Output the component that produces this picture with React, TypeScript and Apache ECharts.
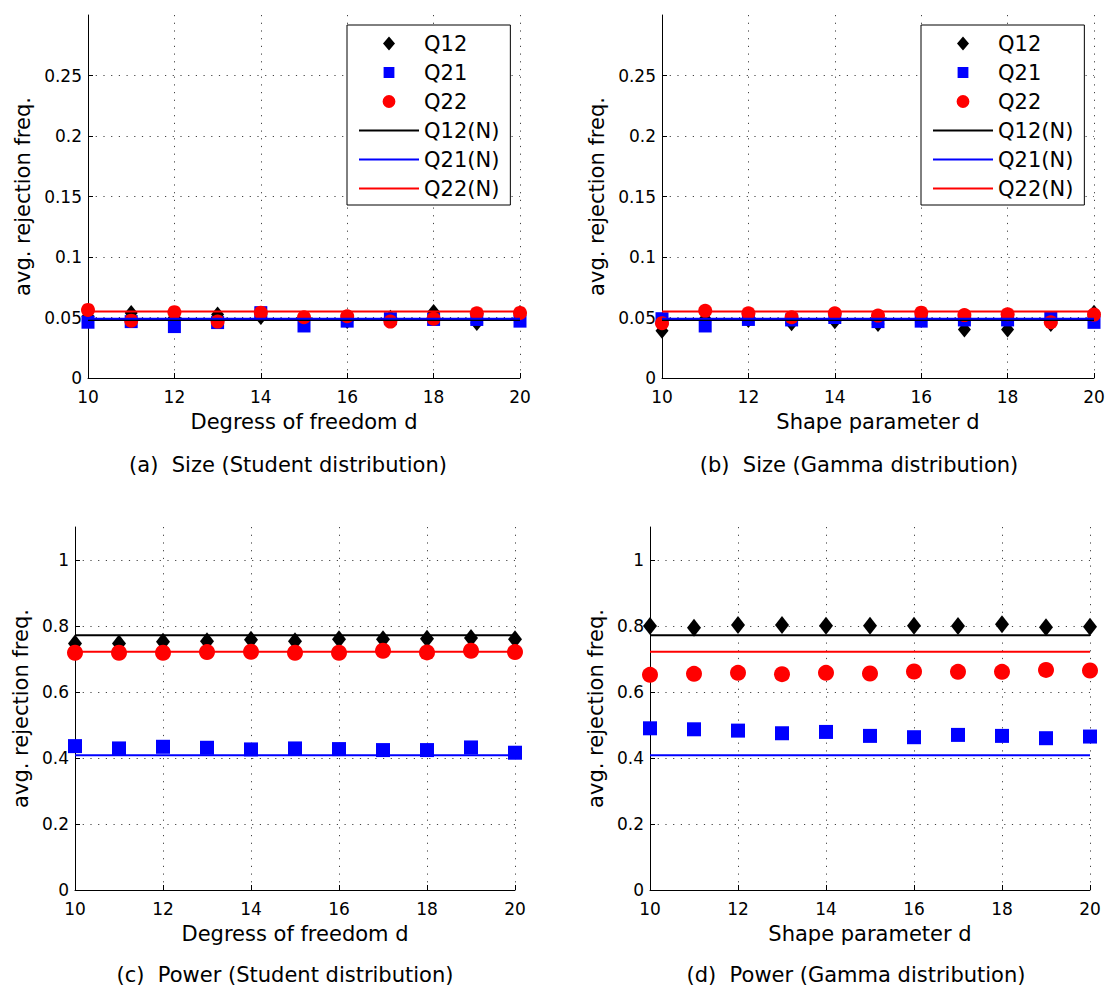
import React, { useEffect, useRef } from "react";
import * as echarts from "echarts";

// ---------- data ----------
const dValues = [10, 11, 12, 13, 14, 15, 16, 17, 18, 19, 20];
const xTicks = [10, 12, 14, 16, 18, 20];
const sizeYTicks = [0, 0.05, 0.1, 0.15, 0.2, 0.25];
const powerYTicks = [0, 0.2, 0.4, 0.6, 0.8, 1];
const sizeYMax = 0.3;
const powerYMax = 1.1;

const seriesNames = ["Q12", "Q21", "Q22"];
const normalNames = ["Q12(N)", "Q21(N)", "Q22(N)"];

// (a) Size, Student distribution
const studentSizeQ12 = [0.051, 0.0537, 0.05, 0.0524, 0.0505, 0.048, 0.0472, 0.0497, 0.0546, 0.0455, 0.0537];
const studentSizeQ21 = [0.0461, 0.0466, 0.0425, 0.0458, 0.054, 0.043, 0.047, 0.049, 0.0484, 0.0484, 0.047];
const studentSizeQ22 = [0.0563, 0.0474, 0.0544, 0.0466, 0.054, 0.0502, 0.051, 0.0466, 0.049, 0.0535, 0.0538];

// (b) Size, Gamma distribution
const gammaSizeQ12 = [0.039, 0.049, 0.048, 0.0453, 0.047, 0.0447, 0.048, 0.04, 0.04, 0.0447, 0.054];
const gammaSizeQ21 = [0.049, 0.043, 0.0484, 0.048, 0.05, 0.0466, 0.047, 0.048, 0.048, 0.05, 0.046];
const gammaSizeQ22 = [0.0453, 0.0555, 0.0535, 0.0502, 0.0535, 0.0516, 0.054, 0.052, 0.0527, 0.0461, 0.0524];

// (c) Power, Student distribution
const studentPowerQ12 = [0.747, 0.747, 0.752, 0.754, 0.758, 0.754, 0.76, 0.76, 0.761, 0.764, 0.76];
const studentPowerQ21 = [0.436, 0.429, 0.434, 0.431, 0.426, 0.429, 0.427, 0.424, 0.424, 0.432, 0.416];
const studentPowerQ22 = [0.719, 0.719, 0.719, 0.721, 0.722, 0.719, 0.719, 0.725, 0.72, 0.725, 0.721];

// (d) Power, Gamma distribution
const gammaPowerQ12 = [0.8, 0.795, 0.803, 0.803, 0.801, 0.801, 0.801, 0.8, 0.805, 0.796, 0.798];
const gammaPowerQ21 = [0.49, 0.487, 0.483, 0.475, 0.479, 0.467, 0.463, 0.47, 0.467, 0.46, 0.465];
const gammaPowerQ22 = [0.652, 0.655, 0.658, 0.654, 0.658, 0.656, 0.662, 0.661, 0.661, 0.667, 0.665];

// normal-distribution reference levels (Q12(N), Q21(N), Q22(N))
const normalSize = [0.048, 0.049, 0.055];
const normalPower = [0.772, 0.408, 0.722];

const captions = [
  "(a)\u00a0 Size (Student distribution)",
  "(b)\u00a0 Size (Gamma distribution)",
  "(c)\u00a0 Power (Student distribution)",
  "(d)\u00a0 Power (Gamma distribution)",
];
const xNames = ["Degress of freedom d", "Shape parameter d", "Degress of freedom d", "Shape parameter d"];
const yName = "avg. rejection freq.";

// ---------- styling ----------
const FONT = "DejaVu Sans";
const colors = ["#000000", "#0000ff", "#ff0000"];
const symbols = ["diamond", "rect", "circle"];
const sizeSymbolSizes: any[] = [[13, 16], 13, 14];
const powerSymbolSizes: any[] = [[14, 18], 14, 16];

// legend icons drawn in a 60 x 14 box (corner specks fix the bounding box)
const SPECKS = " M0,0 L0.01,0 L0,0.01 Z M60,14 L59.99,14 L60,13.99 Z";
const legendIcons = [
  "path://M30,0 L36,7 L30,14 L24,7 Z" + SPECKS,
  "path://M24.6,1.6 L35.4,1.6 L35.4,12.4 L24.6,12.4 Z" + SPECKS,
  "path://M23.6,7 A6.4,6.4 0 1 0 36.4,7 A6.4,6.4 0 1 0 23.6,7 Z" + SPECKS,
];
const lineIcon = "path://M0,6 L60,6 L60,8 L0,8 Z" + SPECKS;

const grids = [
  { left: 88, top: 15, width: 432, height: 363 },
  { left: 662, top: 15, width: 432, height: 363 },
  { left: 75, top: 527, width: 440, height: 363 },
  { left: 650, top: 527, width: 440, height: 363 },
];
const yNameGaps = [55, 55, 44, 44];
const captionPos = [
  [288, 465],
  [859, 465],
  [285, 975],
  [856, 975],
];

const panels = [
  { data: [studentSizeQ12, studentSizeQ21, studentSizeQ22], normal: normalSize, ticks: sizeYTicks, max: sizeYMax, sym: sizeSymbolSizes },
  { data: [gammaSizeQ12, gammaSizeQ21, gammaSizeQ22], normal: normalSize, ticks: sizeYTicks, max: sizeYMax, sym: sizeSymbolSizes },
  { data: [studentPowerQ12, studentPowerQ21, studentPowerQ22], normal: normalPower, ticks: powerYTicks, max: powerYMax, sym: powerSymbolSizes },
  { data: [gammaPowerQ12, gammaPowerQ21, gammaPowerQ22], normal: normalPower, ticks: powerYTicks, max: powerYMax, sym: powerSymbolSizes },
];

function buildOption() {
  const gridLine = { show: true, showMaxLine: false, lineStyle: { color: "#444", width: 1, type: [1.2, 6.5] as any } };
  const xAxis: any[] = [];
  const yAxis: any[] = [];
  const series: any[] = [];

  panels.forEach((p, gi) => {
    xAxis.push({
      type: "value",
      gridIndex: gi,
      min: xTicks[0],
      max: xTicks[xTicks.length - 1],
      interval: xTicks[1] - xTicks[0],
      name: xNames[gi],
      nameLocation: "middle",
      nameGap: 33,
      nameTextStyle: { fontFamily: FONT, fontSize: 21, color: "#000" },
      axisLine: { show: true, onZero: false, lineStyle: { color: "#000", width: 1 } },
      axisTick: { show: true, inside: true, length: 5, lineStyle: { color: "#000" } },
      axisLabel: { show: true, margin: 10, fontFamily: FONT, fontSize: 17, color: "#000" },
      splitLine: { ...gridLine, showMaxLine: true, showMinLine: false },
    });
    yAxis.push({
      type: "value",
      gridIndex: gi,
      min: p.ticks[0],
      max: p.max,
      interval: p.ticks[1] - p.ticks[0],
      name: yName,
      nameLocation: "middle",
      nameGap: yNameGaps[gi],
      nameTextStyle: { fontFamily: FONT, fontSize: 21, color: "#000" },
      axisLine: { show: true, onZero: false, lineStyle: { color: "#000", width: 1 } },
      axisTick: { show: true, inside: true, length: 5, lineStyle: { color: "#000" } },
      axisLabel: { show: true, margin: 6, fontFamily: FONT, fontSize: 17, color: "#000", showMaxLabel: false },
      splitLine: { ...gridLine, showMinLine: false },
    });

    p.data.forEach((vals, si) => {
      series.push({
        type: "scatter",
        name: seriesNames[si],
        xAxisIndex: gi,
        yAxisIndex: gi,
        symbol: symbols[si],
        symbolSize: p.sym[si],
        itemStyle: { color: colors[si], opacity: 1 },
        data: dValues.map((d, k) => [d, vals[k]]),
        silent: true,
      });
    });
    p.normal.forEach((v, si) => {
      series.push({
        type: "line",
        name: normalNames[si],
        xAxisIndex: gi,
        yAxisIndex: gi,
        symbol: "none",
        showSymbol: false,
        lineStyle: { color: colors[si], width: 2 },
        itemStyle: { color: colors[si] },
        data: [
          [dValues[0], v],
          [dValues[dValues.length - 1], v],
        ],
        silent: true,
      });
    });
  });

  const legendData = [
    ...seriesNames.map((n, i) => ({ name: n, icon: legendIcons[i], itemStyle: { color: colors[i], opacity: 1 } })),
    ...normalNames.map((n, i) => ({ name: n, icon: lineIcon, itemStyle: { color: colors[i], opacity: 1 } })),
  ];

  const legendBase = {
    orient: "vertical",
    top: 25,
    padding: [8, 11, 6, 12],
    itemWidth: 60,
    itemHeight: 14,
    itemGap: 8,
    symbolKeepAspect: false,
    borderColor: "#000",
    borderWidth: 1,
    backgroundColor: "#fff",
    selectedMode: false,
    textStyle: { fontFamily: FONT, fontSize: 21, color: "#000" },
    data: legendData,
  };

  return {
    animation: false,
    backgroundColor: "#fff",
    grid: grids.map((g) => ({ ...g, containLabel: false })),
    xAxis,
    yAxis,
    series,
    legend: [
      { ...legendBase, left: 347 },
      { ...legendBase, left: 921 },
    ],
    graphic: captions.map((c, i) => ({
      type: "text",
      x: captionPos[i][0],
      y: captionPos[i][1],
      style: {
        text: c,
        fontFamily: FONT,
        fontSize: 21,
        fill: "#000",
        align: "center",
        verticalAlign: "middle",
      },
    })),
  };
}

export default function App() {
  const ref = useRef<HTMLDivElement>(null);
  useEffect(() => {
    if (!ref.current) return;
    const chart = echarts.init(ref.current, undefined, { renderer: "svg" });
    chart.setOption(buildOption() as any);
    return () => chart.dispose();
  }, []);
  return (
    <div
      ref={ref}
      style={{ position: "absolute", left: 0, top: 0, width: 1110, height: 988, background: "#fff" }}
    />
  );
}
